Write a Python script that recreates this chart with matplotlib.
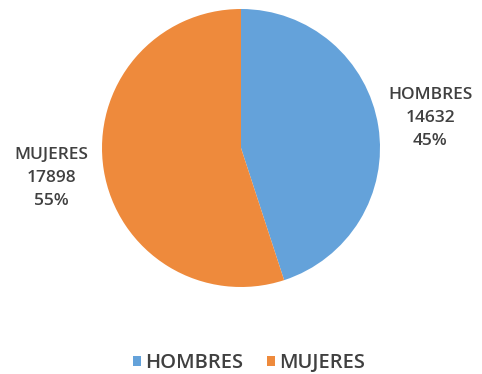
import matplotlib.pyplot as plt

# datos de la distribucion por sexo
categorias = ['HOMBRES', 'MUJERES']
valores = [14632, 17898]
porcentajes = [45, 55]
colores = ['#64A2DA', '#EE8A3C']

plt.rcParams['font.family'] = ['Open Sans', 'DejaVu Sans']
gris = '#404040'

fig = plt.figure(figsize=(4.82, 3.74), dpi=100)
# eje del pastel: centro en (241,148) px, radio 139 px
ax = fig.add_axes([102/482, 87/374, 278/482, 278/374])

etiquetas = [f'{c}\n{v}\n{p}%' for c, v, p in zip(categorias, valores, porcentajes)]
wedges, texts = ax.pie(valores, colors=colores, startangle=90, counterclock=False,
                       labels=etiquetas, labeldistance=1.38,
                       textprops={'color': gris, 'fontsize': 12.5, 'weight': 'semibold'})
for t in texts:
    t.set_ha('center')
    t.set_va('center')
    t.set_multialignment('center')
    t.set_linespacing(1.6)
ax.set_xlim(-1, 1)
ax.set_ylim(-1, 1)
ax.set_aspect('equal')

leg = fig.legend(wedges, categorias, loc='center', bbox_to_anchor=(249/482, 1 - 363/374),
                 ncol=2, frameon=False, handlelength=0.4, handleheight=0.4,
                 columnspacing=1.2, handletextpad=0.2,
                 prop={'size': 14.5, 'weight': 'semibold'})
for t in leg.get_texts():
    t.set_color(gris)

fig.savefig('out.png', dpi=100, facecolor='white')
